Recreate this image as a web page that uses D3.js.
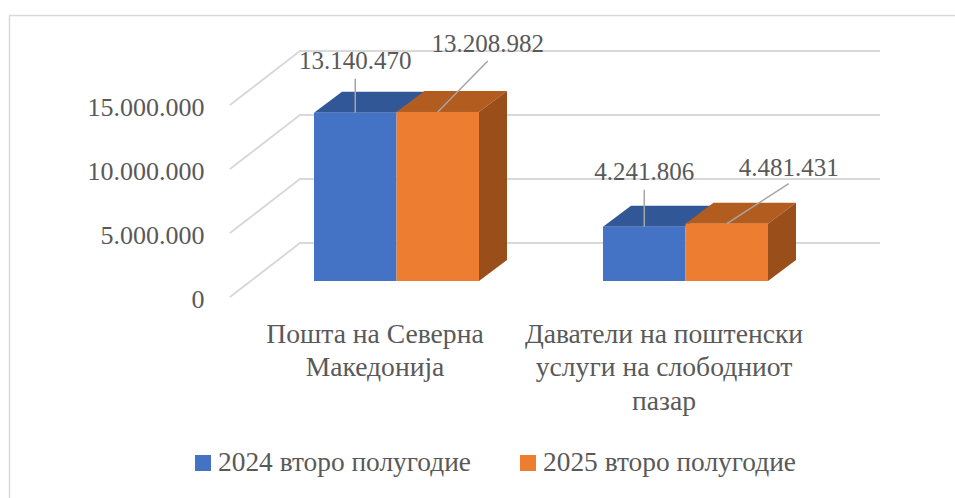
<!DOCTYPE html>
<html>
<head>
<meta charset="utf-8">
<script src="https://cdn.jsdelivr.net/npm/d3@7"></script>
<style>
body { margin: 0; background: #fff; }
text { font-family: "Liberation Serif", serif; fill: #595959; }
</style>
</head>
<body>
<svg id="chart" width="955" height="498"></svg>
<script>
var categories = ["Пошта на Северна Македонија", "Даватели на поштенски услуги на слободниот пазар"];
var categoryLines = [
	["Пошта на Северна", "Македонија"],
	["Даватели на поштенски", "услуги на слободниот", "пазар"]
];
var seriesNames = ["2024 второ полугодие", "2025 второ полугодие"];
var values2024 = [13140470, 4241806];
var values2025 = [13208982, 4481431];
var yTicks = [0, 5000000, 10000000, 15000000];

var colors = ["#4472C4", "#ED7D31"];
var topColors = ["#325797", "#B25C1F"];
var sideColors = ["#264478", "#9A4F1B"];

var svg = d3.select("#chart");

// frame
svg.append("rect").attr("x", 9.5).attr("y", 15.5).attr("width", 960).attr("height", 500)
	.attr("fill", "none").attr("stroke", "#D9D9D9").attr("stroke-width", 1.5);

var y = d3.scaleLinear().domain([0, 15000000]).range([297, 105]);
var x0 = d3.scaleBand().domain(categories).range([252, 830]);
var x1 = d3.scaleBand().domain([0, 1]).range([0, 165]);

var wallDx = 70, wallDy = -54;
var barDx = 28, barDy = -21, floorGap = -16;

var fmt = d3.formatLocale({ decimal: ",", thousands: ".", grouping: [3], currency: ["", ""] }).format(",");

// gridlines, on the floor side and the back wall
yTicks.forEach(function (t) {
	var line = d3.line();
	svg.append("path")
		.attr("d", line([[230, y(t)], [230 + wallDx, y(t) + wallDy], [880, y(t) + wallDy]]))
		.attr("fill", "none").attr("stroke", "#D9D9D9").attr("stroke-width", 2);
});

var axis = d3.axisLeft(y).tickValues(yTicks).tickSize(0).tickPadding(0).tickFormat(fmt);
var axisG = svg.append("g").attr("transform", "translate(204.5,2)").call(axis);
axisG.select(".domain").remove();
axisG.selectAll("text").style("font-family", "Liberation Serif").style("font-size", "26px").attr("fill", "#595959");

// bars
var barData = [];
categories.forEach(function (c, i) {
	barData.push({ c: c, s: 0, v: values2024[i] });
	barData.push({ c: c, s: 1, v: values2025[i] });
});

function barLeft(d) {
	var inner = (x0.bandwidth() - x1.bandwidth() * 2) / 2;
	return x0(d.c) + inner + x1(d.s);
}

var w = x1.bandwidth();
var bars = svg.selectAll(".bar").data(barData).enter().append("g").attr("class", "bar");

bars.append("path").attr("fill", function (d) { return topColors[d.s]; })
	.attr("d", function (d) {
		var l = barLeft(d), t = y(d.v) + floorGap;
		return d3.line()([[l, t], [l + barDx, t + barDy], [l + w + barDx, t + barDy], [l + w, t]]) + "Z";
	});
bars.filter(function (d) { return d.s == 1; }).append("path").attr("fill", function (d) { return sideColors[d.s]; })
	.attr("d", function (d) {
		var l = barLeft(d) + w, t = y(d.v) + floorGap, b = y(0) + floorGap;
		return d3.line()([[l, t], [l + barDx, t + barDy], [l + barDx, b + barDy], [l, b]]) + "Z";
	});
bars.append("rect").attr("fill", function (d) { return colors[d.s]; })
	.attr("x", barLeft).attr("width", w)
	.attr("y", function (d) { return y(d.v) + floorGap; })
	.attr("height", function (d) { return y(0) - y(d.v); });

// data labels with leader lines: offsets from the bar's top centre
var labelDx = [0, 50, 0, 62];
var labelDy = [-34, -51, -37, -40];
var labelTextDx = [0, 50, 0, 62];
var labelTextDy = [-44, -60, -47, -48];

bars.each(function (d, i) {
	var g = d3.select(this);
	var cx = barLeft(d) + w / 2, t = y(d.v) + floorGap;
	g.append("line").attr("x1", cx).attr("y1", t).attr("x2", cx + labelDx[i]).attr("y2", t + labelDy[i])
		.attr("stroke", "#A6A6A6").attr("stroke-width", 1.5);
	g.append("text").attr("x", cx + labelTextDx[i]).attr("y", t + labelTextDy[i])
		.attr("text-anchor", "middle").style("font-size", "25px").text(fmt(d.v));
});

// category labels
var lineYs = [343, 376, 410];
categories.forEach(function (c, i) {
	var cx = x0(c) + x0.bandwidth() / 2 - 21.5;
	categoryLines[i].forEach(function (s, j) {
		svg.append("text").attr("x", cx).attr("y", lineYs[j]).attr("text-anchor", "middle")
			.style("font-size", "27.6px").text(s);
	});
});

// legend
var legendX = [195, 520];
seriesNames.forEach(function (s, i) {
	svg.append("rect").attr("x", legendX[i]).attr("y", 455).attr("width", 16).attr("height", 16).attr("fill", colors[i]);
	svg.append("text").attr("x", legendX[i] + 23).attr("y", 471).style("font-size", "27.4px").text(s);
});
</script>
</body>
</html>
